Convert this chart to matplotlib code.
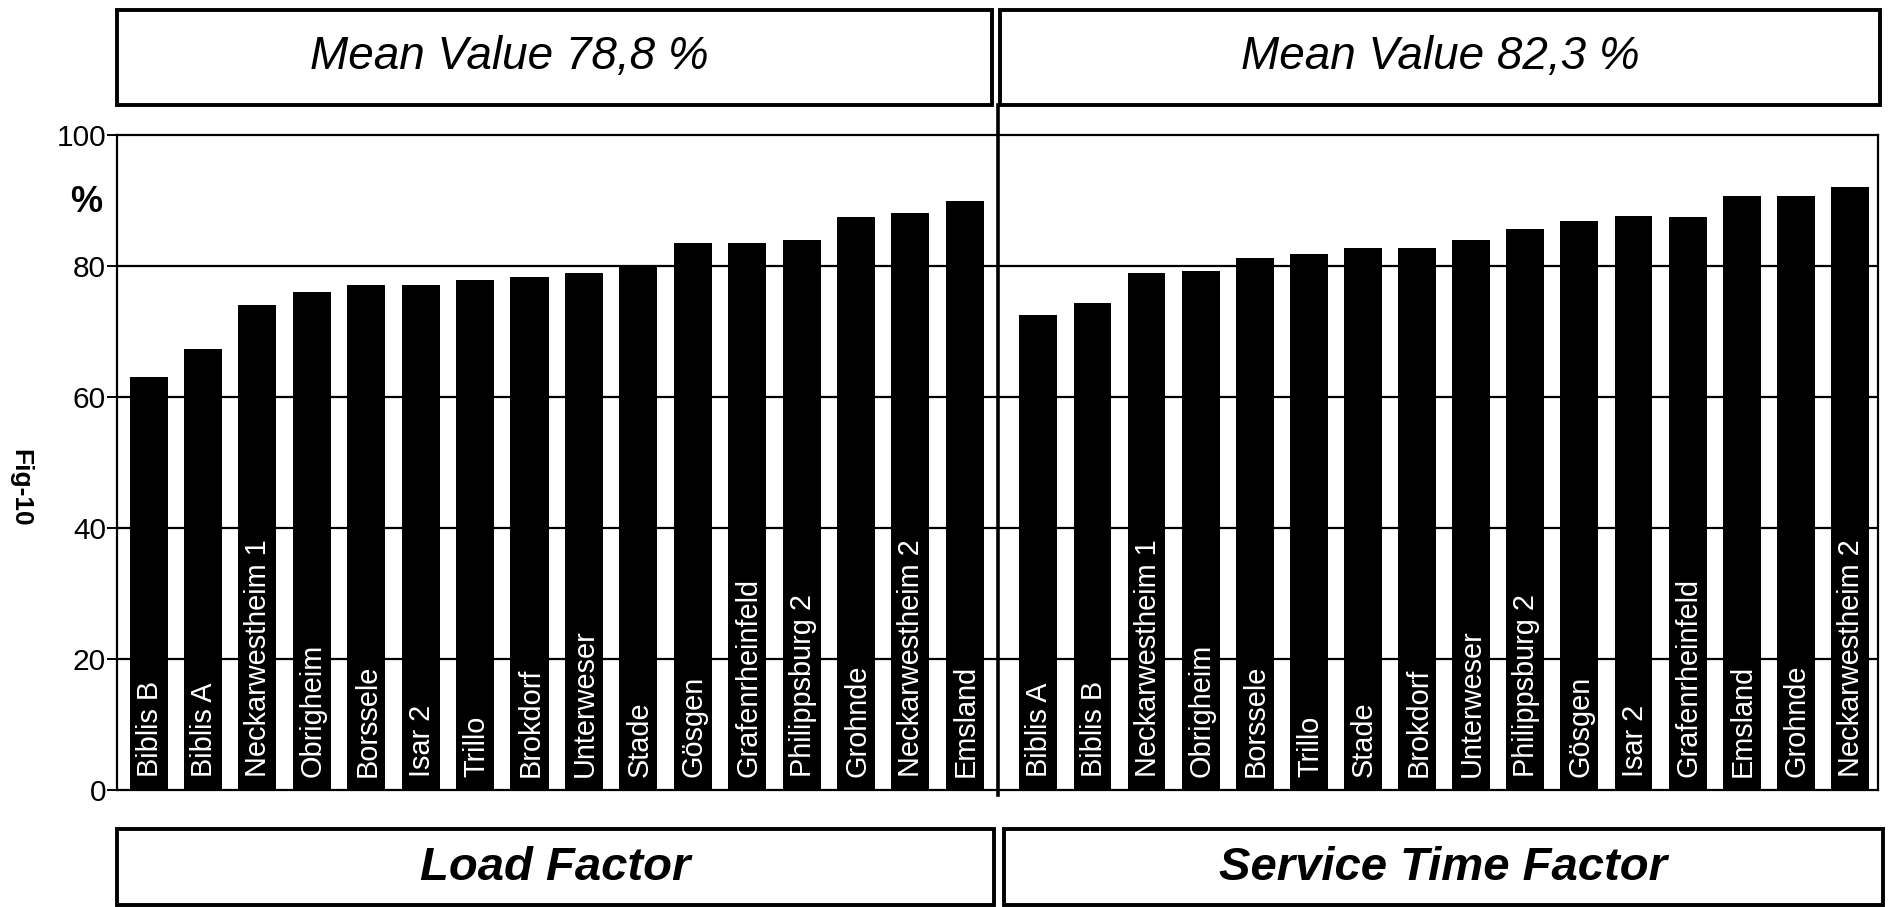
import matplotlib
matplotlib.use('Agg')
import matplotlib.pyplot as plt
from matplotlib.patches import Rectangle
from matplotlib import font_manager

# Load factor (left panel), sorted as in the figure
load_plants = ['Biblis B', 'Biblis A', 'Neckarwestheim 1', 'Obrigheim', 'Borssele',
               'Isar 2', 'Trillo', 'Brokdorf', 'Unterweser', 'Stade', 'Gösgen',
               'Grafenrheinfeld', 'Philippsburg 2', 'Grohnde', 'Neckarwestheim 2',
               'Emsland']
load_factor = [63.1, 67.3, 74.1, 76.0, 77.1, 77.1, 77.9, 78.3, 79.0, 80.2, 83.5,
               83.5, 83.9, 87.5, 88.1, 89.9]

# Service time factor (right panel)
service_plants = ['Biblis A', 'Biblis B', 'Neckarwestheim 1', 'Obrigheim', 'Borssele',
                  'Trillo', 'Stade', 'Brokdorf', 'Unterweser', 'Philippsburg 2',
                  'Gösgen', 'Isar 2', 'Grafenrheinfeld', 'Emsland', 'Grohnde',
                  'Neckarwestheim 2']
service_factor = [72.5, 74.4, 78.9, 79.3, 81.2, 81.9, 82.7, 82.7, 83.9, 85.7, 86.8,
                  87.6, 87.5, 90.7, 90.7, 92.1]

mean_texts = ['Mean Value 78,8 %', 'Mean Value 82,3 %']
panel_titles = ['Load Factor', 'Service Time Factor']
yticks = [0, 20, 40, 60, 80, 100]

names = {f.name for f in font_manager.fontManager.ttflist}
base = 'Liberation Sans' if 'Liberation Sans' in names else 'DejaVu Sans'
narrow = 'Liberation Sans Narrow' if 'Liberation Sans Narrow' in names else base
plt.rcParams['font.family'] = [base, 'DejaVu Sans']

W, H = 1890, 907
fig = plt.figure(figsize=(W / 100, H / 100), dpi=100)


def fx(x):
    return x / W


def fy(y):
    return 1 - y / H


def box(x0, y0, x1, y1, lw=2.8):
    fig.add_artist(Rectangle((fx(x0), fy(y1)), fx(x1) - fx(x0), (y1 - y0) / H,
                             transform=fig.transFigure, fill=False,
                             edgecolor='black', linewidth=lw))


ytop, ybot = 135, 790
ax1 = fig.add_axes([fx(117), fy(ybot), (998 - 117) / W, (ybot - ytop) / H])
ax2 = fig.add_axes([fx(998), fy(ybot), (1878 - 998) / W, (ybot - ytop) / H])

for ax, plants, vals, xl in [(ax1, load_plants, load_factor, (-0.58, 15.61)),
                             (ax2, service_plants, service_factor, (-0.746, 15.52))]:
    pos = range(len(vals))
    ax.bar(pos, vals, width=0.7, color='black', zorder=3)
    for i, name in zip(pos, plants):
        ax.text(i + 0.02, 2.0, name, rotation=90, ha='center', va='bottom',
                color='white', fontsize=20.8, zorder=4)
    ax.set_xlim(xl)
    ax.set_ylim(0, 100)
    ax.set_xticks([])
    for y in yticks[1:-1]:
        ax.axhline(y, color='black', linewidth=1.6, zorder=1)
    for s in ax.spines.values():
        s.set_linewidth(1.6)

ax1.set_yticks(yticks)
ax1.tick_params(axis='y', length=7, width=1.4, labelsize=21.5, pad=1)
ax2.set_yticks([])
ax1.spines['right'].set_visible(False)
ax2.spines['left'].set_visible(False)

# divider between the two panels
fig.add_artist(plt.Line2D([fx(998), fx(998)], [fy(105), fy(795)],
                          transform=fig.transFigure, color='black', linewidth=2.6))

# header boxes with the mean values
box(117, 10, 992, 105)
box(1000, 10, 1880, 105)
fig.text(fx(509), fy(57), mean_texts[0], ha='center', va='center',
         fontsize=33, style='italic')
fig.text(fx(1440), fy(57), mean_texts[1], ha='center', va='center',
         fontsize=33, style='italic')

# footer boxes
box(117, 829, 994, 905)
box(1004, 829, 1883, 905)
fig.text(fx(555), fy(868), panel_titles[0], ha='center', va='center',
         fontsize=34, weight='bold', style='italic', family=[narrow, 'DejaVu Sans'])
fig.text(fx(1443), fy(868), panel_titles[1], ha='center', va='center',
         fontsize=34, weight='bold', style='italic', family=[narrow, 'DejaVu Sans'])

fig.text(fx(86), fy(202), '%', ha='center', va='center', fontsize=26, weight='bold')
fig.text(fx(20), fy(488), 'Fig-10', ha='center', va='center', fontsize=19,
         weight='bold', rotation=-90)

fig.savefig('out.png', dpi=100)
